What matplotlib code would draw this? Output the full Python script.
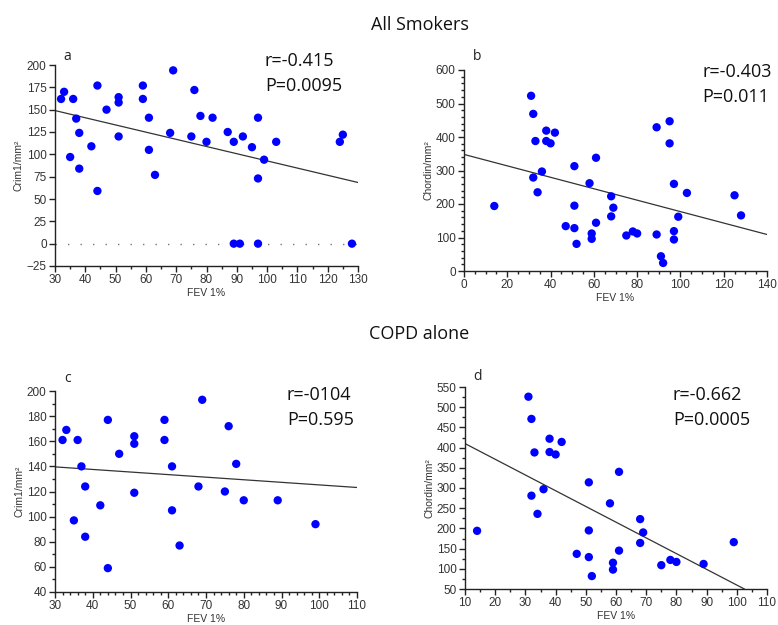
import matplotlib
matplotlib.use("Agg")
import matplotlib.pyplot as plt
from matplotlib.ticker import MultipleLocator

# ---------------- data ----------------
# Panel a: All smokers, Crim1 vs FEV1%
a_x = [32, 33, 36, 37, 38, 35, 38, 42, 44, 44, 47, 51, 51, 51, 59, 59, 61, 61, 63,
       69, 68, 75, 76, 78, 80, 82, 87, 89, 92, 95, 97, 97, 99, 103, 124, 125,
       89, 91, 97, 128]
a_y = [162, 170, 162, 140, 124, 97, 84, 109, 177, 59, 150, 164, 158, 120, 177, 162, 141, 105, 77,
       194, 124, 120, 172, 143, 114, 141, 125, 114, 120, 108, 141, 73, 94, 114, 114, 122,
       0, 0, 0, 0]
a_fit_x = [30, 130]
a_fit_y = [149, 68.5]

# Panel b: All smokers, Chordin vs FEV1%
b_x = [14, 31, 32, 32, 33, 34, 36, 38, 38, 40, 42, 47, 51, 51, 51, 52, 58, 59, 59, 61,
       61, 68, 68, 69, 75, 78, 80, 89, 89, 91, 92, 95, 95, 97, 97, 97, 99, 103, 125, 128]
b_y = [194, 523, 469, 279, 388, 235, 297, 419, 388, 381, 413, 134, 313, 195, 128, 81, 262, 112, 96, 338,
       144, 223, 163, 189, 106, 118, 112, 429, 109, 44, 24, 447, 381, 260, 119, 94, 162, 233, 226, 166]
b_fit_x = [0, 140]
b_fit_y = [348, 109]

# Panel c: COPD alone, Crim1 vs FEV1%
c_x = [32, 33, 36, 37, 38, 35, 38, 42, 44, 44, 47, 51, 51, 51, 59, 59, 61, 61, 63,
       69, 68, 75, 76, 78, 80, 89, 99]
c_y = [161, 169, 161, 140, 124, 97, 84, 109, 177, 59, 150, 164, 158, 119, 177, 161, 140, 105, 77,
       193, 124, 120, 172, 142, 113, 113, 94]
c_fit_x = [30, 110]
c_fit_y = [139.6, 123.2]

# Panel d: COPD alone, Chordin vs FEV1%
d_x = [14, 31, 32, 32, 33, 34, 36, 38, 38, 40, 42, 47, 51, 51, 51, 52, 58, 59, 59,
       61, 61, 68, 68, 69, 75, 78, 80, 89, 99]
d_y = [194, 526, 471, 281, 388, 236, 297, 422, 389, 383, 414, 137, 314, 195, 129, 82, 262, 115, 98,
       340, 145, 223, 164, 190, 109, 122, 117, 112, 166]
d_fit_x = [10, 102.5]
d_fit_y = [410, 50]

panel_letters = ["a", "b", "c", "d"]
stats_text = ["r=-0.415\nP=0.0095", "r=-0.403\nP=0.011", "r=-0104\nP=0.595", "r=-0.662\nP=0.0005"]
y_labels = ["Crim1/mm\u00b2", "Chordin/mm\u00b2", "Crim1/mm\u00b2", "Chordin/mm\u00b2"]
x_label = "FEV 1%"
section_titles = ["All Smokers", "COPD alone"]

# ---------------- figure ----------------
plt.rcParams["font.family"] = ["Liberation Sans", "DejaVu Sans"]
W, H = 778, 625
fig = plt.figure(figsize=(W / 100, H / 100), dpi=100)
text_font = ["Open Sans", "DejaVu Sans"]

def add_axes(l, r, t, b):
    return fig.add_axes([l / W, 1 - b / H, (r - l) / W, (b - t) / H])

specs = [
    dict(box=(55, 358, 65, 266), x=a_x, y=a_y, fx=a_fit_x, fy=a_fit_y,
         xlim=(30, 130), ylim=(-25, 200), xmaj=10, xmin=5, ymaj=25, ymin=None),
    dict(box=(464, 767, 70, 271), x=b_x, y=b_y, fx=b_fit_x, fy=b_fit_y,
         xlim=(0, 140), ylim=(0, 600), xmaj=20, xmin=5, ymaj=100, ymin=20),
    dict(box=(55, 357, 391, 592), x=c_x, y=c_y, fx=c_fit_x, fy=c_fit_y,
         xlim=(30, 110), ylim=(40, 200), xmaj=10, xmin=2, ymaj=20, ymin=10),
    dict(box=(465, 767, 387, 589), x=d_x, y=d_y, fx=d_fit_x, fy=d_fit_y,
         xlim=(10, 110), ylim=(50, 550), xmaj=10, xmin=5, ymaj=50, ymin=25),
]

stats_pos = [(265, 61), (702, 72), (287, 395), (673, 395)]
letter_pos = [(63, 57), (473, 57), (64, 379), (473, 377)]

for i, s in enumerate(specs):
    ax = add_axes(*s["box"])
    ax.set_xlim(*s["xlim"])
    ax.set_ylim(*s["ylim"])
    for sp in ("top", "right"):
        ax.spines[sp].set_visible(False)
    for sp in ("left", "bottom"):
        ax.spines[sp].set_color("#222222")
        ax.spines[sp].set_linewidth(1.0)
    ax.xaxis.set_major_locator(MultipleLocator(s["xmaj"]))
    ax.xaxis.set_minor_locator(MultipleLocator(s["xmin"]))
    ax.yaxis.set_major_locator(MultipleLocator(s["ymaj"]))
    if s["ymin"]:
        ax.yaxis.set_minor_locator(MultipleLocator(s["ymin"]))
    ax.tick_params(which="major", direction="out", length=4, width=1, color="#222222",
                   labelsize=8.5, pad=2, labelcolor="#333333")
    ax.tick_params(which="minor", direction="out", length=2, width=1, color="#222222")
    if i == 0:
        ax.axhline(0, color="#777777", lw=1, ls=(0, (1, 8)), zorder=1)
    ax.plot(s["fx"], s["fy"], color="#333333", lw=0.9, zorder=2, clip_on=True)
    ax.scatter(s["x"], s["y"], s=36, color="#0000ff", edgecolors="none", zorder=3, clip_on=False)
    ax.set_xlabel(x_label, fontsize=7.5, color="#333333", labelpad=1)
    ax.set_ylabel(y_labels[i], fontsize=7.5, color="#333333", labelpad=2)

    lx, ly = letter_pos[i]
    fig.text(lx / W, 1 - ly / H, panel_letters[i], fontsize=10, family=text_font,
             ha="left", va="center", color="#222222")
    sx, sy = stats_pos[i]
    r_line, p_line = stats_text[i].split("\n")
    fig.text(sx / W, 1 - sy / H, r_line, fontsize=13, family=text_font,
             ha="left", va="center", color="#111111")
    fig.text(sx / W, 1 - (sy + 25) / H, p_line, fontsize=13, family=text_font,
             ha="left", va="center", color="#111111")

fig.text(420 / W, 1 - 25 / H, section_titles[0], fontsize=13, family=text_font,
         ha="center", va="center", color="#111111")
fig.text(419 / W, 1 - 334 / H, section_titles[1], fontsize=13, family=text_font,
         ha="center", va="center", color="#111111")

fig.savefig("out.png", dpi=100)
